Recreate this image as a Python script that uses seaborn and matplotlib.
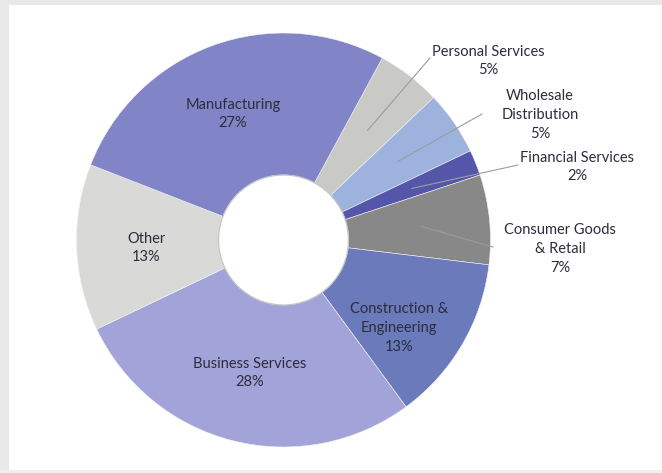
import matplotlib
matplotlib.use("Agg")
import matplotlib.pyplot as plt
import seaborn as sns
import numpy as np
from matplotlib.patches import Circle, Rectangle

# Sector breakdown (share of total, %)
sectors = ["Personal Services", "Wholesale\nDistribution", "Financial Services",
           "Consumer Goods\n& Retail", "Construction &\nEngineering",
           "Business Services", "Other", "Manufacturing"]
shares = [5, 5, 2, 7, 13, 28, 13, 27]
colors = ["#c9c9c6", "#9db3de", "#5456a9", "#888888",
          "#6a7abb", "#a1a3d9", "#d9d9d7", "#8284c8"]

# Layout (pixel space of the figure)
label_xy = {
    "Personal Services": (488, 61),
    "Wholesale\nDistribution": (540, 115),
    "Financial Services": (577, 167),
    "Consumer Goods\n& Retail": (560, 249),
    "Construction &\nEngineering": (399, 328),
    "Business Services": (250, 373),
    "Other": (146, 248),
    "Manufacturing": (233, 114),
}
leader_end = {
    "Personal Services": (430, 58),
    "Wholesale\nDistribution": (482, 114),
    "Financial Services": (518, 165),
    "Consumer Goods\n& Retail": (493, 247),
}

sns.set_theme(style="white")
plt.rcParams["font.family"] = ["Lato", "DejaVu Sans"]

W, H = 662, 473
fig = plt.figure(figsize=(W / 100, H / 100), dpi=100)
fig.patch.set_facecolor("white")
ax = fig.add_axes([0, 0, 1, 1])

cx, cy = 283.5, 240.0
R, r_hole = 207.0, 65.0

wedges, _ = ax.pie(
    shares, colors=colors, startangle=-61.5, counterclock=True,
    radius=R, center=(cx, cy),
    wedgeprops=dict(width=R - r_hole, edgecolor="#f4f4f4", linewidth=0.4),
)
ax.add_patch(Circle((cx, cy), r_hole, facecolor="white",
                    edgecolor="#c4c4c4", linewidth=0.9, zorder=3))

ax.set_xlim(0, W)
ax.set_ylim(H, 0)
ax.set_aspect("auto")
ax.axis("off")

text_color = "#2c2c3c"
for name, share, w in zip(sectors, shares, wedges):
    x, y = label_xy[name]
    ax.text(x, y, f"{name}\n{share}%", ha="center", va="center",
            fontsize=10.5, color=text_color, linespacing=1.45, zorder=5)
    if name in leader_end:
        mid = np.deg2rad((w.theta1 + w.theta2) / 2)
        x0 = cx + 0.667 * R * np.cos(mid)
        y0 = cy + 0.667 * R * np.sin(mid)
        x1, y1 = leader_end[name]
        ax.plot([x0, x1], [y0, y1], color="#9c9c9c", lw=0.8, zorder=4)

# light grey page frame
frame = "#e9e9e9"
ax.add_patch(Rectangle((0, 0), W, 5, facecolor=frame, edgecolor="none", zorder=0))
ax.add_patch(Rectangle((0, 0), 9, H, facecolor=frame, edgecolor="none", zorder=0))
ax.add_patch(Rectangle((0, H - 3), W, 3, facecolor="#efefef", edgecolor="none", zorder=0))

fig.savefig("out.png", dpi=100)
